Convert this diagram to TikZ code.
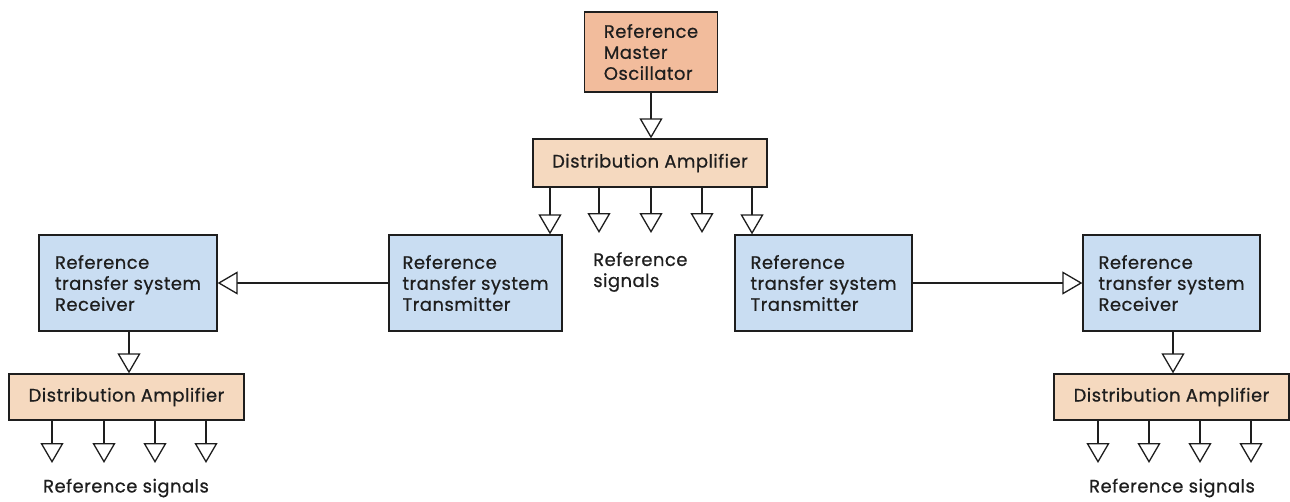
\documentclass[tikz,border=0pt]{standalone}
\usepackage{fontspec}
\setmainfont{Poppins}[LetterSpace=2.5,FakeBold=0.6]
\usetikzlibrary{arrows.meta}
\definecolor{oscfill}{RGB}{242,188,156}
\definecolor{dafill}{RGB}{245,217,191}
\definecolor{bluefill}{RGB}{201,221,242}
\definecolor{linec}{RGB}{30,30,30}
\tikzset{
  box/.style={draw=linec, line width=1.3pt, rectangle, align=left, inner sep=0pt,
    font=\fontsize{18}{21}\selectfont, text=linec},
  oscbox/.style={box, fill=oscfill},
  dabox/.style={box, fill=dafill},
  bluebox/.style={box, fill=bluefill},
  lbl/.style={align=left, inner sep=0pt, font=\fontsize{18}{21}\selectfont, text=linec},
  sig/.style={draw=linec, line width=1.3pt, -{Triangle[open, length=20pt, width=23pt, line width=1.3pt, fill=white]}}
}
\begin{document}
\begin{tikzpicture}[x=1pt,y=-1pt]
\useasboundingbox (0,0) rectangle (1290,501);
% boxes
\node[oscbox, minimum width=133pt, minimum height=80pt] (osc) at (651,52) {Reference\\Master\\Oscillator};
\node[dabox, minimum width=234pt, minimum height=48pt] (da0) at (650,163) {Distribution Amplifier};
\node[bluebox, minimum width=173pt, minimum height=96pt] (tx1) at (475.5,283) {Reference\\transfer system\\Transmitter};
\node[bluebox, minimum width=177pt, minimum height=96pt] (tx2) at (823.5,283) {Reference\\transfer system\\Transmitter};
\node[bluebox, minimum width=178pt, minimum height=96pt] (rx1) at (128,283) {Reference\\transfer system\\Receiver};
\node[bluebox, minimum width=177pt, minimum height=96pt] (rx2) at (1171.5,283) {Reference\\transfer system\\Receiver};
\node[dabox, minimum width=235pt, minimum height=46pt] (da1) at (126.5,397) {Distribution Amplifier};
\node[dabox, minimum width=235pt, minimum height=46pt] (da2) at (1171.5,397) {Distribution Amplifier};
% labels
\node[lbl, anchor=west] (sig0) at (593,272) {Reference\\signals};
\node[lbl] (sig1) at (126,488) {Reference signals};
\node[lbl] (sig2) at (1172,488) {Reference signals};
% free ends
\foreach \x [count=\i] in {599,651,702} {\coordinate (t0\i) at (\x,233);}
\foreach \x [count=\i] in {52,104,155,206} {\coordinate (t1\i) at (\x,463);}
\foreach \x [count=\i] in {1098,1149,1200,1251} {\coordinate (t2\i) at (\x,463);}
% connectors
\draw[sig] (osc.south) -- (da0.north -| osc.south);
\draw[sig] (da0.south -| 550,0) -- (tx1.north -| 550,0);
\foreach \i in {1,2,3} {\draw[sig] (da0.south -| t0\i) -- (t0\i);}
\draw[sig] (da0.south -| 752,0) -- (tx2.north -| 752,0);
\draw[sig] (tx1.west) -- (rx1.east);
\draw[sig] (tx2.east) -- (rx2.west);
\draw[sig] (rx1.south -| 129,0) -- (da1.north -| 129,0);
\draw[sig] (rx2.south -| 1173,0) -- (da2.north -| 1173,0);
\foreach \i in {1,2,3,4} {\draw[sig] (da1.south -| t1\i) -- (t1\i);}
\foreach \i in {1,2,3,4} {\draw[sig] (da2.south -| t2\i) -- (t2\i);}
\end{tikzpicture}
\end{document}
